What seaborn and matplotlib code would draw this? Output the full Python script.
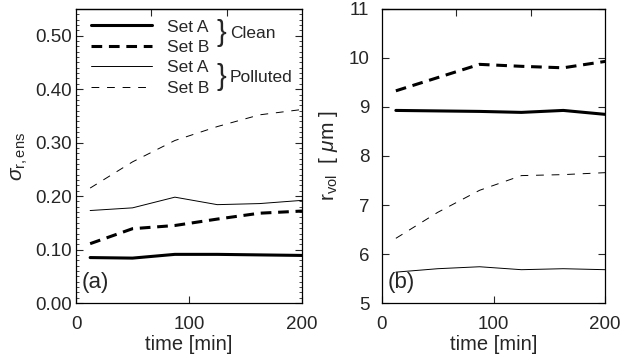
import numpy as np
import pandas as pd
import matplotlib
matplotlib.use("Agg")
import matplotlib.pyplot as plt
from matplotlib.lines import Line2D
from matplotlib.ticker import MultipleLocator, FixedLocator, FormatStrFormatter
import seaborn as sns

# --- Datos ---
tiempo = [12.5, 50, 87.5, 125, 162.5, 200]  # minutos

# Panel (a): sigma_r,ens
sigma_limpio_a = [0.085, 0.084, 0.091, 0.091, 0.090, 0.089]
sigma_limpio_b = [0.111, 0.139, 0.145, 0.157, 0.168, 0.172]
sigma_contam_a = [0.173, 0.178, 0.198, 0.184, 0.186, 0.192]
sigma_contam_b = [0.215, 0.264, 0.304, 0.330, 0.352, 0.362]

# Panel (b): r_vol [um]
rvol_limpio_a = [8.93, 8.92, 8.91, 8.89, 8.93, 8.85]
rvol_limpio_b = [9.33, 9.60, 9.87, 9.83, 9.80, 9.93]
rvol_contam_a = [5.63, 5.70, 5.74, 5.68, 5.70, 5.68]
rvol_contam_b = [6.32, 6.85, 7.30, 7.60, 7.62, 7.66]

etiquetas_set = ["Set A", "Set B", "Set A", "Set B"]
grupos = ["Clean", "Polluted"]

sns.set_theme(style="ticks")
plt.rcParams["font.family"] = ["Liberation Sans", "DejaVu Sans"]
plt.rcParams["mathtext.fontset"] = "custom"
plt.rcParams["mathtext.rm"] = "Liberation Sans"
plt.rcParams["mathtext.it"] = "Liberation Sans:italic"

# estilos: (ancho, patron de guiones)
estilos = [
    (2.2, (None, None)),
    (2.2, (3.5, 2.2)),
    (0.7, (None, None)),
    (0.7, (8, 8)),
]

fig = plt.figure(figsize=(6.2, 3.58), dpi=100)
ax1 = fig.add_axes([0.1226, 0.1536, 0.3645, 0.8213])
ax2 = fig.add_axes([0.616, 0.1536, 0.360, 0.8213])


def dibujar(ax, series):
    for valores, (lw, dash) in zip(series, estilos):
        df = pd.DataFrame({"t": tiempo, "v": valores})
        sns.lineplot(data=df, x="t", y="v", ax=ax, color="black", lw=lw)
        if dash[0] is not None:
            ax.get_lines()[-1].set_dashes(dash)


def ejes(ax, pad_y):
    ax.set_xlim(0, 200)
    ax.xaxis.set_major_locator(FixedLocator([0, 100, 200]))
    ax.tick_params(axis="both", which="major", direction="in", length=5, width=0.8,
                   labelsize=13.5, top=False, right=True)
    ax.tick_params(axis="x", which="major", pad=9)
    ax.tick_params(axis="y", which="major", pad=pad_y)
    ax.tick_params(axis="both", which="minor", direction="in", length=2.5, width=0.6,
                   right=True)
    for s in ax.spines.values():
        s.set_linewidth(0.9)
        s.set_color("black")
    sec = ax.secondary_xaxis("top")
    sec.set_xticks([200 / 3, 400 / 3])
    sec.tick_params(direction="in", length=5, width=0.8, labeltop=False)
    sec.spines["top"].set_linewidth(0.9)
    ax.set_xlabel("time [min]", fontsize=14.5, labelpad=2)


# --- Panel (a) ---
dibujar(ax1, [sigma_limpio_a, sigma_limpio_b, sigma_contam_a, sigma_contam_b])
ejes(ax1, 3)
ax1.set_ylim(0, 0.55)
ax1.yaxis.set_major_locator(MultipleLocator(0.1))
ax1.yaxis.set_minor_locator(MultipleLocator(0.01))
ax1.yaxis.set_major_formatter(FormatStrFormatter("%.2f"))
ax1.set_ylabel(r"$\sigma_{\mathrm{r,ens}}$", fontsize=15, labelpad=4)
ax1.text(0.025, 0.035, "(a)", transform=ax1.transAxes, fontsize=16, va="bottom", ha="left")

manejadores = [Line2D([0], [0], color="black", lw=lw, dashes=d if d[0] else (None, None))
               for lw, d in estilos]
ax1.legend(manejadores, etiquetas_set, loc="upper left", bbox_to_anchor=(0.02, 1.0),
           frameon=False, fontsize=12.5, handlelength=3.5, handletextpad=0.9,
           labelspacing=0.3, borderaxespad=0.2)
for yy, nombre in zip([0.917, 0.768], grupos):
    ax1.text(0.645, yy, "}", transform=ax1.transAxes, fontsize=21, va="center", ha="center")
    ax1.text(0.68, yy, nombre, transform=ax1.transAxes, fontsize=12.5, va="center", ha="left")

# --- Panel (b) ---
dibujar(ax2, [rvol_limpio_a, rvol_limpio_b, rvol_contam_a, rvol_contam_b])
ejes(ax2, 9)
ax2.set_ylim(5, 11)
ax2.yaxis.set_major_locator(MultipleLocator(1))
ax2.set_ylabel(r"$\mathrm{r_{vol}}$  [ $\mu$m ]", fontsize=15, labelpad=6)
ax2.text(0.025, 0.035, "(b)", transform=ax2.transAxes, fontsize=16, va="bottom", ha="left")

fig.savefig("out.png", dpi=100)
